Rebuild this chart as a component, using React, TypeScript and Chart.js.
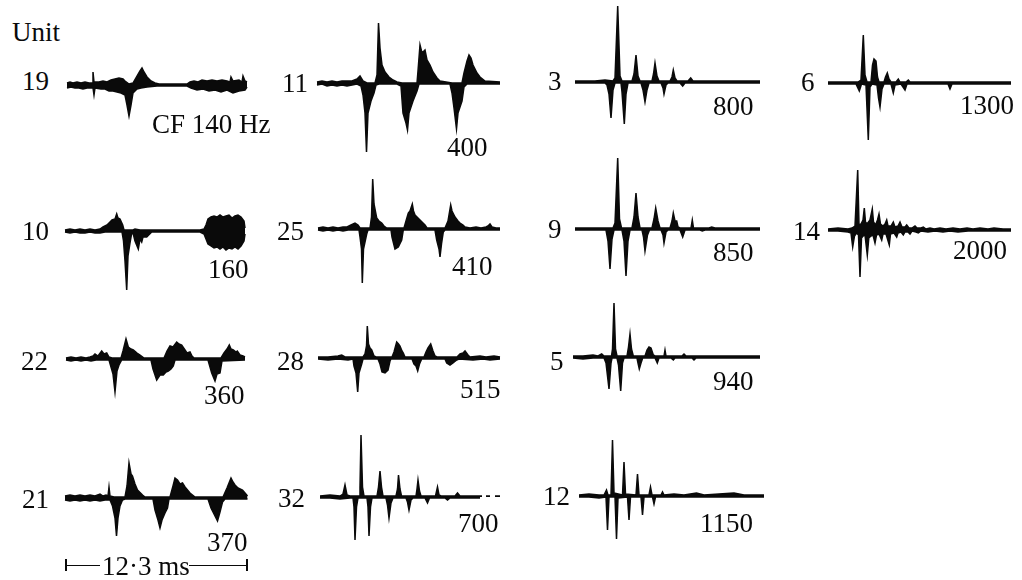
import { useEffect, useRef } from "react";
import { Chart, registerables } from "chart.js";

Chart.register(...registerables);

type Pt = [number, number];

// Time axis: record steps (182 steps = 12.3 ms). Amplitude: arbitrary units, + is up.
const RECORD_STEPS = 182;
const RECORD_MS = 12.3;

const unitLabels = ["19", "11", "3", "6", "10", "25", "9", "14", "22", "28", "5", "21", "32", "12"];
const cfLabels = ["CF 140 Hz", "400", "800", "1300", "160", "410", "850", "2000", "360", "515", "940", "370", "700", "1150"];

const u19Hi: Pt[] = [[0,2],[3,3],[6,2],[10,3],[14,2],[18,3],[22,2],[25,2],[26,13],[27,3],[32,3],[36,4],[40,3],[44,5],[48,6],[52,7],[56,6],[58,4],[62,1],[66,2],[70,9],[73,14],[75,17],[77,13],[80,8],[84,4],[88,2],[92,1],[120,1],[123,3],[127,4],[131,3],[135,5],[140,4],[145,5],[150,4],[155,5],[160,4],[163,3],[164,8],[166,4],[172,5],[175,3],[176,9],[178,4],[180,3]];
const u19Lo: Pt[] = [[0,-3],[4,-2],[8,-3],[12,-3],[16,-4],[20,-3],[24,-3],[26,-3],[27,-10],[28,-3],[34,-4],[38,-4],[42,-6],[46,-6],[50,-7],[54,-8],[58,-10],[60,-20],[62,-31],[64,-20],[66,-8],[70,-4],[74,-3],[80,-2],[90,-1],[120,-1],[124,-3],[130,-5],[136,-4],[142,-6],[148,-5],[154,-7],[160,-5],[166,-8],[172,-6],[178,-5],[180,-2]];

const u11Hi: Pt[] = [[0,1],[5,2],[10,1],[15,2],[20,1],[25,2],[30,2],[35,2],[40,4],[43,7],[46,2],[50,0],[58,0],[60,8],[61.5,60],[63,35],[65,18],[68,11],[72,6],[76,3],[80,1],[85,0],[100,0],[101,12],[103,38],[105,30],[108,33],[110,23],[113,18],[116,11],[120,5],[123,2],[135,0],[145,0],[147,10],[150,22],[152,28],[154,25],[156,18],[160,10],[163,6],[168,2],[183,1]];
const u11Lo: Pt[] = [[0,-2],[5,-1],[10,-3],[15,-2],[20,-3],[25,-2],[30,-3],[35,-2],[40,-1],[44,-3],[46,-12],[48,-30],[49.5,-69],[51,-30],[54,-18],[57,-10],[59,-2],[62,-1],[80,-1],[84,-3],[86,-30],[89,-40],[90.5,-47],[92,-30],[96,-18],[100,-8],[102,-1],[133,-1],[135,-10],[137,-25],[139.5,-46],[141,-30],[145,-18],[147,-4],[150,-1],[183,-1]];

const u3Hi: Pt[] = [[0,1],[20,1],[30,2],[38,1],[40,4],[42.7,76],[45,6],[47,1],[57,1],[59,8],[61,27],[63,6],[65,1],[77,1],[78.5,8],[80,19],[82,6],[84,1],[95,1],[97,5],[98.3,12],[100,4],[102,1],[113,1],[115.7,4],[118,1],[185,1]];
const u3Lo: Pt[] = [[0,-1],[30,-1],[32,-3],[34,-12],[36,-36],[38,-8],[40,-1],[46,-1],[47,-10],[49.3,-42],[51,-12],[53,-1],[66,-1],[68,-8],[70,-20],[72,-8],[74,-1],[86,-1],[88,-6],[89,-12],[91,-3],[93,-1],[105,-1],[107.7,-4],[110,-1],[185,-1]];

const u6Hi: Pt[] = [[0,1],[30,1],[33,3],[35.3,48],[37,8],[39,1],[43,1],[44.5,18],[46,24],[48,22],[49.5,6],[51,1],[56,1],[57.5,6],[59.3,10],[61,4],[63,1],[68,1],[70.3,4],[72,1],[78,1],[80.3,3],[82,1],[183,1]];
const u6Lo: Pt[] = [[0,-1],[28,-1],[31.3,-8],[33.5,-1],[38,-2],[40.3,-57],[42,-4],[44,-1],[49,-2],[50.5,-15],[52,-24],[54,-6],[56,-1],[63,-1],[65.3,-10],[67,-2],[73,-1],[75,-4],[77,-7],[79,-1],[120,-1],[122,-6],[124,-1],[183,-1]];

const u10Hi: Pt[] = [[0,1],[5,2],[10,1],[15,2],[20,1],[25,2],[30,1],[35,2],[38,4],[42,6],[45,9],[47,11],[50,12],[51.7,17],[53,13],[55,12],[57.7,6],[59,1],[68,1],[70,2],[75,1],[85,1],[135,1],[139,2],[141,6],[143,12],[146,14],[149,15],[152,14],[155,16],[158,14],[161,15],[164,16],[167,13],[170,15],[173,16],[176,14],[179,10],[180,3]];
const u10Lo: Pt[] = [[0,-1],[5,-2],[10,-1],[15,-2],[20,-2],[25,-1],[30,-2],[35,-2],[40,-1],[57,-1],[58.5,-10],[60,-30],[61.7,-59],[63,-25],[65,-12],[66.7,-2],[68.3,-3],[70,-10],[73.3,-18],[75,-8],[76.7,-11],[78,-6],[81.7,-6],[86.7,-1],[135,-1],[139,-3],[141,-8],[143,-13],[146,-15],[149,-17],[152,-16],[155,-18],[158,-16],[161,-19],[164,-17],[167,-18],[170,-16],[173,-18],[176,-15],[179,-10],[180,-3]];

const u25Hi: Pt[] = [[0,1],[5,2],[10,1],[15,2],[20,1],[25,2],[29,2],[33,4],[37,6],[40,4],[42,1],[52,1],[53.5,12],[54.7,50],[56,25],[58.7,11],[61,8],[63.7,6],[66,3],[68.7,1],[86,1],[88,8],[90.3,16],[92,18],[94.3,25],[95.5,18],[97,14],[100,11],[102,9],[105,6],[107,4],[109,1],[127,1],[130,8],[132.7,24],[134,18],[137,12],[140,8],[142,6],[145,4],[147,2],[152,1],[158,2],[163,1],[168,2],[170,3],[172,5],[174,2],[178,1],[182,1]];
const u25Lo: Pt[] = [[0,-1],[5,-2],[10,-1],[15,-2],[20,-1],[25,-2],[30,-1],[41,-1],[42,-8],[43.5,-20],[44.3,-54],[45.5,-20],[48.7,-5],[50,-1],[73,-1],[74,-8],[77,-20],[80.3,-18],[83.7,-11],[85.3,-1],[117,-1],[118.7,-11],[121,-20],[122,-28],[123.5,-15],[125.3,-3],[127,-1],[182,-1]];

const u9Hi: Pt[] = [[0,1],[38,1],[40,6],[42.7,71],[44.5,10],[46.5,1],[57,1],[59,12],[61,36],[63,12],[65,1],[77,1],[79,10],[80.7,21],[83,8],[85,1],[95,1],[97,8],[98.3,16],[100,8],[101.7,8],[103,2],[105,1],[116,1],[117.3,9],[118.5,1],[134,1],[136.7,2],[140,1],[185,1]];
const u9Lo: Pt[] = [[0,-1],[31,-1],[33,-12],[35,-40],[37,-10],[39,-1],[47,-1],[49,-12],[51,-47],[53,-12],[55,-1],[67,-1],[68.5,-8],[70,-22],[72.5,-6],[74.5,-1],[86,-1],[88,-6],[89,-14],[91,-3],[93,-1],[105,-1],[107.7,-8],[110,-1],[125,-1],[127.3,-2],[130,-1],[185,-1]];

const u14Hi: Pt[] = [[0,1],[10,2],[20,1],[24,2],[27,4],[29.7,60],[31,5],[33,6],[35,10],[36.3,22],[37.5,8],[39,6],[42,10],[44.3,21],[45.5,8],[47.5,5],[49.5,10],[51,16],[52.5,6],[55,4],[57,6],[58.7,10],[60,4],[63,4],[65.3,8],[67,3],[70,4],[72,8],[74,3],[77,3],[78.7,5],[81,2],[84,2],[87,4],[89,2],[93,2],[95.3,3],[98,1],[102,2],[106,1],[112,2],[118,1],[125,2],[132,1],[139,2],[145,1],[152,2],[160,1],[166,2],[175,1],[183,1]];
const u14Lo: Pt[] = [[0,-1],[10,-1],[20,-2],[23,-3],[24.7,-17],[26.5,-6],[28.5,-3],[30.5,-5],[32,-47],[33.5,-8],[35,-6],[37,-5],[39.3,-25],[40.8,-8],[43,-6],[45,-5],[47,-13],[48.5,-5],[51,-4],[53.7,-10],[55,-4],[58,-4],[61.3,-15],[62.5,-4],[66,-3],[68.7,-7],[70,-3],[73,-2],[75.3,-5],[77,-2],[80,-2],[82,-4],[84,-1],[88,-2],[90.3,-3],[93,-1],[100,-2],[107,-1],[115,-2],[122,-1],[130,-2],[140,-1],[150,-1],[183,-1]];

const u22Hi: Pt[] = [[0,1],[5,2],[10,1],[15,2],[20,1],[24,2],[27,3],[29,5],[32,3],[35.7,8],[38,5],[40.7,6],[43,2],[46,1],[55,1],[57,8],[60,20],[62.3,12],[65,10],[67.3,9],[71,6],[74,4],[78,1],[98,1],[101,8],[104,13],[107,12],[110.7,17],[113,15],[115.7,14],[119,9],[121,6],[124,7],[126,3],[128,1],[155,1],[158,6],[161,10],[163.3,14],[165,10],[167.3,9],[170,7],[171.3,8],[174,4],[177,3],[179,2]];
const u22Lo: Pt[] = [[0,-1],[5,-2],[10,-1],[15,-2],[20,-1],[25,-2],[30,-1],[43,-1],[45,-8],[47,-15],[49,-33],[51,-12],[53,-6],[55.7,-1],[85,-1],[87,-10],[90.7,-21],[94,-16],[97.3,-16],[100,-13],[102.3,-12],[105,-10],[107.3,-7],[109,-1],[142,-1],[144,-8],[145.7,-14],[149,-22],[151,-15],[154,-14],[156,-2],[179,-1]];

const u28Hi: Pt[] = [[0,1],[10,1],[20,2],[23.7,3],[27,1],[35,1],[45,1],[47,4],[48.5,12],[49.3,32],[50.5,14],[52,10],[53.7,8],[56,2],[58,1],[74,1],[76,6],[78.7,16],[80.5,14],[82,12],[84,7],[85.3,5],[87,1],[106,1],[108,6],[110,10],[112.7,14],[115,7],[117,2],[119,1],[139,1],[142,4],[145,5],[147,7],[150,3],[152,1],[162,2],[168,1],[176,2],[182,1]];
const u28Lo: Pt[] = [[0,-1],[10,-2],[20,-1],[30,-2],[35,-1],[36,-8],[38,-15],[39.7,-34],[41,-15],[43.7,-6],[45,-1],[60,-1],[62,-6],[64,-14],[67,-15],[70,-12],[72,-3],[73,-1],[94,-1],[96,-6],[98,-8],[99.7,-13],[101.5,-6],[103.7,-1],[127,-1],[128.7,-5],[132,-7],[135,-5],[138.7,-2],[141,-1],[155,-2],[165,-1],[172,-2],[182,-1]];

const u5Hi: Pt[] = [[0,1],[10,1],[20,2],[25,1],[28.7,3],[31,1],[38.5,1],[39.5,8],[41,54],[42.5,8],[44,1],[54,1],[55.5,10],[57,23],[58.5,8],[60.3,1],[72,1],[74,7],[76,10],[78,9],[80.3,2],[82,1],[91,1],[92,7],[93,1],[109,1],[111,3],[113,1],[187,1]];
const u5Lo: Pt[] = [[0,-1],[10,-2],[20,-1],[31,-1],[33,-6],[36,-32],[38,-6],[39,-1],[44,-1],[45.5,-8],[47.7,-34],[49.5,-6],[51,-1],[64,-1],[65,-6],[66.3,-12],[68,-6],[69.7,-1],[82,-1],[84.3,-6],[86,-1],[98,-1],[100.3,-3],[102,-1],[119,-1],[121,-3],[123,-1],[187,-1]];

const u21Hi: Pt[] = [[0,2],[5,3],[10,2],[15,3],[20,2],[25,3],[30,2],[35,4],[38,2],[41,3],[43,2],[44,11],[45,2],[49,1],[60,1],[62,12],[64,35],[66,24],[67.5,22],[70,14],[72.5,8],[77.5,3],[80,1],[105,1],[108,12],[110,20],[112.5,18],[115,14],[117.5,15],[120,11],[122.5,8],[125,5],[127.5,3],[130,1],[158,1],[162,10],[166,20],[168,16],[170,13],[173,10],[177.5,8],[180,5],[182.5,2]];
const u21Lo: Pt[] = [[0,-2],[5,-3],[10,-2],[15,-3],[20,-2],[25,-3],[30,-2],[35,-3],[40,-2],[45,-2],[47.5,-8],[50,-20],[51.5,-38],[53,-20],[55,-8],[57.5,-2],[60,-1],[88,-1],[90,-12],[93,-22],[95,-30],[97,-22],[100,-15],[102.5,-10],[104,-1],[143,-1],[146,-10],[149,-16],[152.5,-23],[155,-14],[157.5,-4],[160,-1],[182.5,-1]];

const u32Hi: Pt[] = [[0,1],[10,2],[20,1],[23,3],[25,12],[27,2],[30,1],[39,1],[40,10],[41,62],[42.5,10],[44,1],[57,1],[58.5,10],[60,26],[61.5,10],[63,1],[76,1],[77.5,8],[78.5,22],[80,8],[81.5,1],[96,1],[97,8],[98,17],[99.5,6],[101,1],[115.5,1],[117.5,10],[119,2],[121,1],[135,1],[137.5,4],[140,1],[162,1],[163,null as unknown as number],[166,1],[170,1],[171,null as unknown as number],[175,1],[180,1]];
const u32Lo: Pt[] = [[0,-1],[10,-1],[20,-2],[30,-1],[33,-1],[34,-10],[35,-43],[36.5,-10],[38,-1],[47,-1],[48,-10],[49,-39],[50.5,-10],[52,-1],[66,-1],[67.5,-8],[69,-21],[71,-6],[73,-1],[86,-1],[87.5,-5],[89,-13],[91,-3],[93,-1],[105,-1],[107.5,-6],[109.5,-1],[125,-1],[127.5,-3],[130,-1],[160,-1]];

const u12Hi: Pt[] = [[0,1],[10,2],[20,1],[25,1],[27.5,6],[29,1],[32,1],[33.5,56],[35,3],[43.5,1],[45,34],[46.5,2],[57,1],[58.5,22],[60,1],[70,1],[71.5,9],[73,1],[82,1],[83.5,4],[85,1],[95,2],[105,1],[117.5,3],[125,1],[140,2],[155,3],[165,1],[185,1]];
const u12Lo: Pt[] = [[0,-1],[10,-1],[20,-2],[27,-1],[28.5,-34],[30,-1],[36,-1],[37.5,-43],[39,-2],[48.5,-1],[50,-24],[51.5,-1],[62,-1],[63.5,-19],[65,-1],[73.5,-1],[75,-8],[76.5,-1],[100,-1],[130,-1],[185,-1]];

const traceHi = [u19Hi, u11Hi, u3Hi, u6Hi, u10Hi, u25Hi, u9Hi, u14Hi, u22Hi, u28Hi, u5Hi, u21Hi, u32Hi, u12Hi];
const traceLo = [u19Lo, u11Lo, u3Lo, u6Lo, u10Lo, u25Lo, u9Lo, u14Lo, u22Lo, u28Lo, u5Lo, u21Lo, u32Lo, u12Lo];

// ---- layout (pixels on the page) ----
const traceLeft = [67, 317, 575, 828, 65, 318, 575, 828, 66, 318, 573, 65, 320, 579];
const traceBase = [85, 82.7, 81.7, 83.3, 230.7, 229, 229, 230, 359.3, 358.3, 357.3, 498.3, 497.3, 495.7];
const unitPos: [number, number][] = [[22,72],[282,74],[548,72],[801,73],[22,222],[277,222],[548,220],[793,222],[21,352],[277,352],[550,352],[22,490],[278,489],[543,487]];
const cfPos: [number, number][] = [[152,115],[447,138],[713,97],[960,96],[208,260],[452,257],[713,243],[953,241],[204,386],[460,380],[713,372],[207,533],[458,514],[700,514]];

const INK = "#0a0a0a";
const FONT = "'Liberation Serif', 'Times New Roman', serif";
const FS = 27;
const STEP_MS = RECORD_MS / RECORD_STEPS;
const X_PAD = 2;
const CW = 192;
const CH = 160;
const Y_HALF = 80;

function toXY(pts: Pt[]) {
  return pts.map(([t, v]) => ({ x: t * STEP_MS, y: v }));
}

function Trace({ hi, lo, left, base }: { hi: Pt[]; lo: Pt[]; left: number; base: number }) {
  const ref = useRef<HTMLCanvasElement>(null);
  useEffect(() => {
    const mk = (pts: Pt[]) => ({
      data: toXY(pts),
      borderColor: INK,
      backgroundColor: INK,
      borderWidth: 1.5,
      fill: "origin" as const,
      pointRadius: 0,
      tension: 0,
      spanGaps: false,
    });
    const chart = new Chart(ref.current as HTMLCanvasElement, {
      type: "line",
      data: { datasets: [mk(hi), mk(lo)] as any },
      options: {
        responsive: false,
        animation: false,
        events: [],
        layout: { padding: 0 },
        plugins: { legend: { display: false }, tooltip: { enabled: false }, title: { display: false } },
        scales: {
          x: { type: "linear", min: -X_PAD * STEP_MS, max: (CW - X_PAD) * STEP_MS, display: false },
          y: { type: "linear", min: -Y_HALF, max: Y_HALF, display: false },
        },
      },
    });
    return () => chart.destroy();
  }, [hi, lo]);
  return (
    <canvas
      ref={ref}
      width={CW}
      height={CH}
      style={{ position: "absolute", left: left - X_PAD, top: base - Y_HALF, width: CW, height: CH }}
    />
  );
}

function Label({ text, x, y }: { text: string; x: number; y: number }) {
  return (
    <div
      style={{
        position: "absolute",
        left: x,
        top: y - 4.4,
        fontFamily: FONT,
        fontSize: FS,
        lineHeight: `${FS}px`,
        color: INK,
        whiteSpace: "nowrap",
      }}
    >
      {text}
    </div>
  );
}

export default function App() {
  return (
    <div
      style={{
        position: "absolute",
        left: 0,
        top: 0,
        width: 1022,
        height: 580,
        background: "#fff",
        overflow: "hidden",
      }}
    >
      <Label text="Unit" x={12} y={23} />
      {unitLabels.map((u, i) => (
        <Trace key={"t" + u} hi={traceHi[i]} lo={traceLo[i]} left={traceLeft[i]} base={traceBase[i]} />
      ))}
      {unitLabels.map((u, i) => (
        <Label key={"u" + u} text={u} x={unitPos[i][0]} y={unitPos[i][1]} />
      ))}
      {cfLabels.map((c, i) => (
        <Label key={"c" + i} text={c} x={cfPos[i][0]} y={cfPos[i][1]} />
      ))}
      {/* scale bar: 12.3 ms */}
      <div style={{ position: "absolute", left: 65, top: 559, width: 1.5, height: 12, background: INK }} />
      <div style={{ position: "absolute", left: 65, top: 564.5, width: 35, height: 1.5, background: INK }} />
      <Label text={"12\u00b73 ms"} x={102} y={557} />
      <div style={{ position: "absolute", left: 189, top: 564.5, width: 58, height: 1.5, background: INK }} />
      <div style={{ position: "absolute", left: 246, top: 559, width: 1.5, height: 12, background: INK }} />
    </div>
  );
}
